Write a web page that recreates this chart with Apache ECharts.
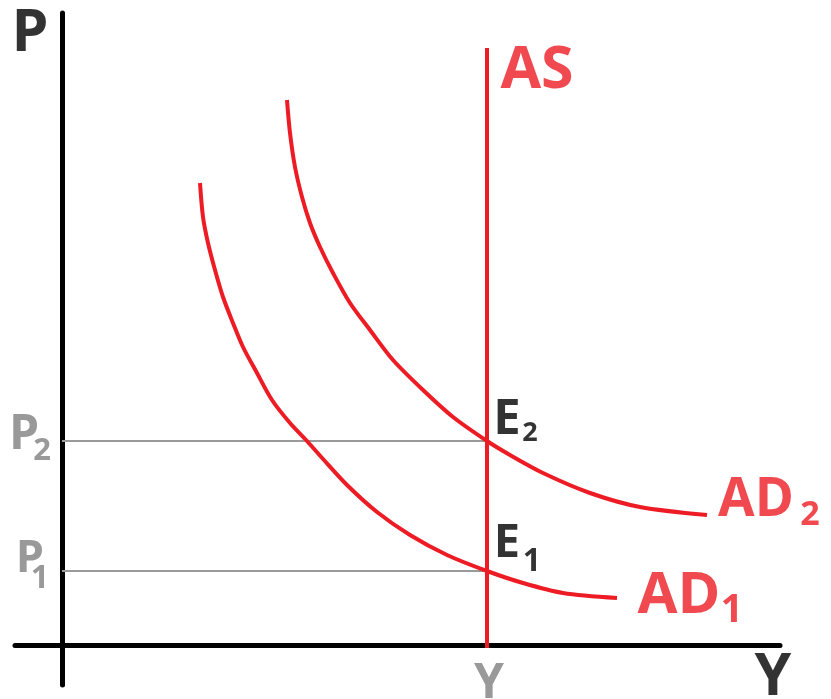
<!DOCTYPE html>
<html><head><meta charset="utf-8">
<script src="https://cdn.jsdelivr.net/npm/echarts@6/dist/echarts.min.js"></script>
<style>html,body{margin:0;padding:0;background:#fff}#c{width:831px;height:699px}</style>
</head><body><div id="c"></div>
<script>
// ---- data (abstract output/price units, origin at axis crossing) ----
const ad1X = [138, 141, 146, 153, 161, 171, 181, 195, 210, 228, 245, 261, 285, 315, 348, 385, 425, 461, 501, 555];
const ad1Y = [462, 428, 402, 375, 348, 322, 298, 272, 245, 222, 204, 186, 160, 133, 110, 90, 74, 62, 52, 47];
const ad2X = [225, 228, 233, 240, 248, 258, 271, 288, 308, 331, 361, 391, 425, 448, 481, 528, 578, 645];
const ad2Y = [545, 512, 478, 448, 422, 398, 372, 342, 315, 285, 255, 228, 204, 190, 172, 152, 138, 130];
const asOutput = 425;
const asRange = [-3, 597];
const priceLevels = [74, 204];          // P1, P2
const priceMain = ['P', 'P'];
const priceSub = ['1', '2'];
const eqMain = ['E', 'E'];
const eqSub = ['1', '2'];
const outputTick = 'Y';
const axisNames = ['P', 'Y'];
const curveNames = ['AS', 'AD', 'AD'];
const curveSubs = ['', '1', '2'];
const xRange = [-47, 718];
const yRange = [-40, 632];

// ---- styles ----
const RED = '#ED1C24';
const GRAY_TXT = '#7f7f7f';
const FONT = '"Open Sans", Lato, sans-serif';

function zip(xs, ys) { return xs.map((x, i) => [x, ys[i]]); }

function textAt(point, text, size, color, offset) {
  return {
    type: 'scatter', symbolSize: 0, silent: true, clip: false, z: 10,
    data: [point],
    label: {
      show: true, position: 'inside', align: 'center', verticalAlign: 'middle',
      formatter: text, offset: offset,
      fontSize: size, fontWeight: 'bold', fontFamily: FONT, color: color,
      lineHeight: size
    }
  };
}

const series = [];

// guide lines
priceLevels.forEach(p => {
  series.push({
    type: 'line', silent: true, symbol: 'none', z: 2,
    lineStyle: { color: '#9a9a9a', width: 2 },
    data: [[0, p], [asOutput, p]]
  });
});

// AS
series.push({
  type: 'line', silent: true, symbol: 'none', z: 4,
  lineStyle: { color: RED, width: 4 },
  data: [[asOutput, asRange[0]], [asOutput, asRange[1]]]
});
// AD1, AD2
[zip(ad1X, ad1Y), zip(ad2X, ad2Y)].forEach(d => {
  series.push({
    type: 'line', silent: true, symbol: 'none', smooth: 0.3, z: 4,
    lineStyle: { color: RED, width: 4 }, data: d
  });
});

const ad1End = [ad1X[ad1X.length - 1], ad1Y[ad1Y.length - 1]];
const ad2End = [ad2X[ad2X.length - 1], ad2Y[ad2Y.length - 1]];

// curve labels
series.push(textAt([asOutput, asRange[1]], curveNames[0], 59, RED, [50, 23]));
series.push(textAt(ad1End, curveNames[1], 58, RED, [62, -2]));
series.push(textAt(ad1End, curveSubs[1], 39, RED, [115, 13]));
series.push(textAt(ad2End, curveNames[2], 53, RED, [49, -14]));
series.push(textAt(ad2End, curveSubs[2], 34, RED, [103, 0]));

// equilibrium labels
series.push(textAt([asOutput, priceLevels[1]], eqMain[1], 49, '#000', [20, -21]));
series.push(textAt([asOutput, priceLevels[1]], eqSub[1], 27, '#000', [43, -8]));
series.push(textAt([asOutput, priceLevels[0]], eqMain[0], 47, '#000', [20, -27]));
series.push(textAt([asOutput, priceLevels[0]], eqSub[0], 32, '#000', [45, -9]));

// price tick labels
series.push(textAt([0, priceLevels[1]], priceMain[1], 48, GRAY_TXT, [-38, -6]));
series.push(textAt([0, priceLevels[1]], priceSub[1], 31, GRAY_TXT, [-20, 10]));
series.push(textAt([0, priceLevels[0]], priceMain[0], 45, GRAY_TXT, [-32, -12]));
series.push(textAt([0, priceLevels[0]], priceSub[0], 32, GRAY_TXT, [-22, 8]));

// output tick label
series.push(textAt([asOutput, 0], outputTick, 48, GRAY_TXT, [2, 39]));

// axis names
series.push(textAt([0, yRange[1]], axisNames[0], 59, '#000', [-32, 21]));
series.push(textAt([xRange[1], 0], axisNames[1], 59, '#000', [-7, 33]));

const chart = echarts.init(document.getElementById('c'), null, { renderer: 'canvas' });
chart.setOption({
  animation: false,
  backgroundColor: '#fff',
  grid: { left: 15, right: 51, top: 13, bottom: 14, containLabel: false },
  xAxis: {
    type: 'value', min: xRange[0], max: xRange[1],
    axisLine: { show: true, onZero: true, lineStyle: { color: '#000', width: 5 } },
    axisTick: { show: false }, axisLabel: { show: false }, splitLine: { show: false }
  },
  yAxis: {
    type: 'value', min: yRange[0], max: yRange[1],
    axisLine: { show: true, onZero: true, lineStyle: { color: '#000', width: 5 } },
    axisTick: { show: false }, axisLabel: { show: false }, splitLine: { show: false }
  },
  series: series
});
</script>
</body></html>
